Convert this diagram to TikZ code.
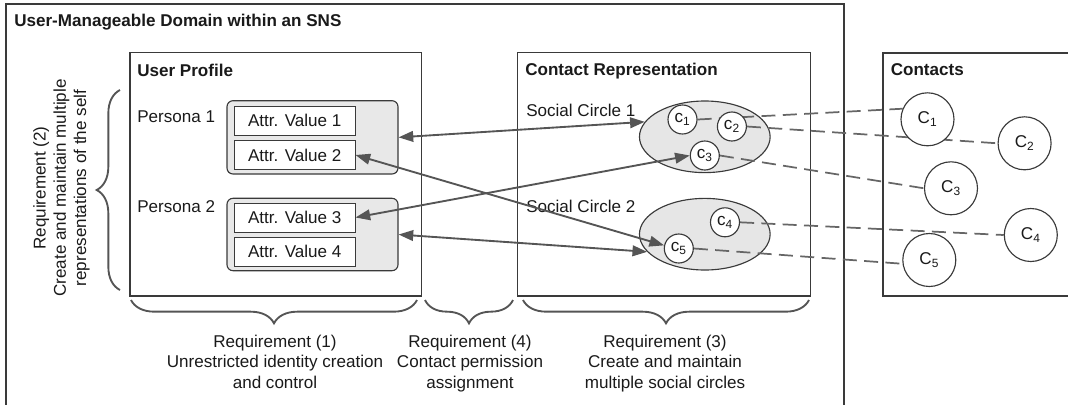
\documentclass[tikz,border=0pt]{standalone}
\usepackage{fontspec}
\setmainfont{Liberation Sans}
\usetikzlibrary{arrows.meta,decorations.pathreplacing,shapes.geometric,fit}

\definecolor{boxline}{HTML}{3A3A3A}
\definecolor{arrowline}{HTML}{555555}
\definecolor{dashline}{HTML}{666666}
\definecolor{panelfill}{HTML}{E8E8E8}
\definecolor{circlefill}{HTML}{E6E6E6}
\definecolor{inktext}{HTML}{1A1A1A}

\pgfdeclarelayer{panels}
\pgfdeclarelayer{ties}
\pgfsetlayers{panels,ties,main}

\begin{document}
\begin{tikzpicture}[x=0.75pt, y=-0.75pt,
  every node/.style={font=\fontsize{12.8pt}{15.2pt}\selectfont, text=inktext},
  boxedge/.style={draw=boxline, line width=0.85pt},
  region/.style={boxedge, inner sep=0pt},
  persona/.style={draw=boxline, fill=panelfill, rounded corners=4.5pt, line width=0.85pt, inner sep=0pt},
  attr/.style={draw=boxline, fill=white, line width=0.75pt, inner sep=0pt,
    minimum width=90.4pt, minimum height=21.75pt},
  circ/.style={ellipse, draw=boxline, fill=circlefill, line width=0.85pt,
    minimum width=98pt, minimum height=53.7pt, inner sep=0pt},
  member/.style={circle, draw=boxline, fill=white, line width=0.85pt,
    minimum size=21.75pt, inner sep=0pt},
  contact/.style={circle, draw=boxline, fill=white, line width=0.85pt,
    minimum size=39.75pt, inner sep=0pt},
  link/.style={draw=arrowline, line width=1.4pt,
    {Triangle[length=11pt,width=8pt]}-{Triangle[length=11pt,width=8pt]}},
  tie/.style={draw=dashline, line width=1.3pt, dash pattern=on 10.5pt off 5.5pt},
  curly/.style={draw=arrowline, line width=1.4pt, decorate,
    decoration={brace, amplitude=17.5pt}},
  heading/.style={font=\fontsize{12.8pt}{15.2pt}\selectfont\bfseries,
    anchor=base west, inner sep=0pt},
  lbl/.style={anchor=base west, inner sep=0pt},
  req/.style={align=center, anchor=north, inner sep=0pt}
]
\useasboundingbox (0,0) rectangle (1068,404);

% frames and groups
\begin{pgfonlayer}{panels}
  \draw[boxedge] (6,410) -- (6,4) -- (844,4) -- (844,410);
  \node[region, fit={(130,52.5) (421.5,296)}] (profile) {};
  \node[region, fit={(517.5,52.5) (810.5,296)}] (reps) {};
  \draw[boxedge] (1075,53) -- (883,53) -- (883,296) -- (1075,296);
  \node[persona, fit={(227,100.7) (398,174)}] (p1) {};
  \node[persona, fit={(227,198.3) (398,270.7)}] (p2) {};
  \node[circ] (e1) at (704.8,136.8) {};
  \node[circ] (e2) at (704.8,234.2) {};
\end{pgfonlayer}

% headings and labels
\node[heading] (title) at (14,26.5) {User-Manageable Domain within an SNS};
\node[heading] (hprofile) at (137,76) {User Profile};
\node[heading] (hreps) at (525,75.5) {Contact Representation};
\node[heading] (hcontacts) at (890.5,75.5) {Contacts};
\node[lbl] (lp1) at (137,122.5) {Persona 1};
\node[lbl] (lp2) at (137,212.5) {Persona 2};
\node[lbl] (ls1) at (526,116) {Social Circle 1};
\node[lbl] (ls2) at (526,212) {Social Circle 2};

% attribute values
\node[attr] (a1) at (294.75,120.5) {Attr. Value 1};
\node[attr] (a2) at (294.75,155) {Attr. Value 2};
\node[attr] (a3) at (294.75,217.5) {Attr. Value 3};
\node[attr] (a4) at (294.75,251.7) {Attr. Value 4};

% circle members
\node[member] (c1) at (682.5,119.5) {c\textsubscript{1}};
\node[member] (c2) at (731.9,126.5) {c\textsubscript{2}};
\node[member] (c3) at (704.8,155.5) {c\textsubscript{3}};
\node[member] (c4) at (725,222.3) {c\textsubscript{4}};
\node[member] (c5) at (678.8,248.5) {c\textsubscript{5}};

% contacts
\node[contact] (C1) at (927.5,119.3) {C\textsubscript{1}};
\node[contact] (C2) at (1024.6,143.3) {C\textsubscript{2}};
\node[contact] (C3) at (951,188.3) {C\textsubscript{3}};
\node[contact] (C4) at (1030.8,235) {C\textsubscript{4}};
\node[contact] (C5) at (929.3,260) {C\textsubscript{5}};

% member-to-contact ties
\begin{pgfonlayer}{ties}
  \draw[tie] (c1.east) -- (C1.157);
  \draw[tie] (c2.east) -- (C2.west);
  \draw[tie] (c3.east) -- (C3.west);
  \draw[tie] (c4.east) -- (C4.west);
  \draw[tie] (c5.east) -- (C5.188);
\end{pgfonlayer}

% permission links
\draw[link] (p1.east) -- (e1.166);
\draw[link] (a2.east) -- (c5.168);
\draw[link] (a3.east) -- (c3.west);
\draw[link] (p2.east) -- (e2.197);

% requirement braces
\draw[curly] (120,290) -- (120,90);
\draw[curly] (417,300) -- (131,300);
\draw[curly] (513,300) -- (425,300);
\draw[curly] (809,300) -- (523,300);

% requirement texts
\node[align=center, rotate=90] (r2) at (61.5,188)
  {Requirement (2)\\Create and maintain multiple\\representations of the self};
\node[req] (r1) at (275,335)
  {Requirement (1)\\Unrestricted identity creation\\and control};
\node[req] (r4) at (470,335)
  {Requirement (4)\\Contact permission\\assignment};
\node[req] (r3) at (665,335)
  {Requirement (3)\\Create and maintain\\multiple social circles};
\end{tikzpicture}
\end{document}
